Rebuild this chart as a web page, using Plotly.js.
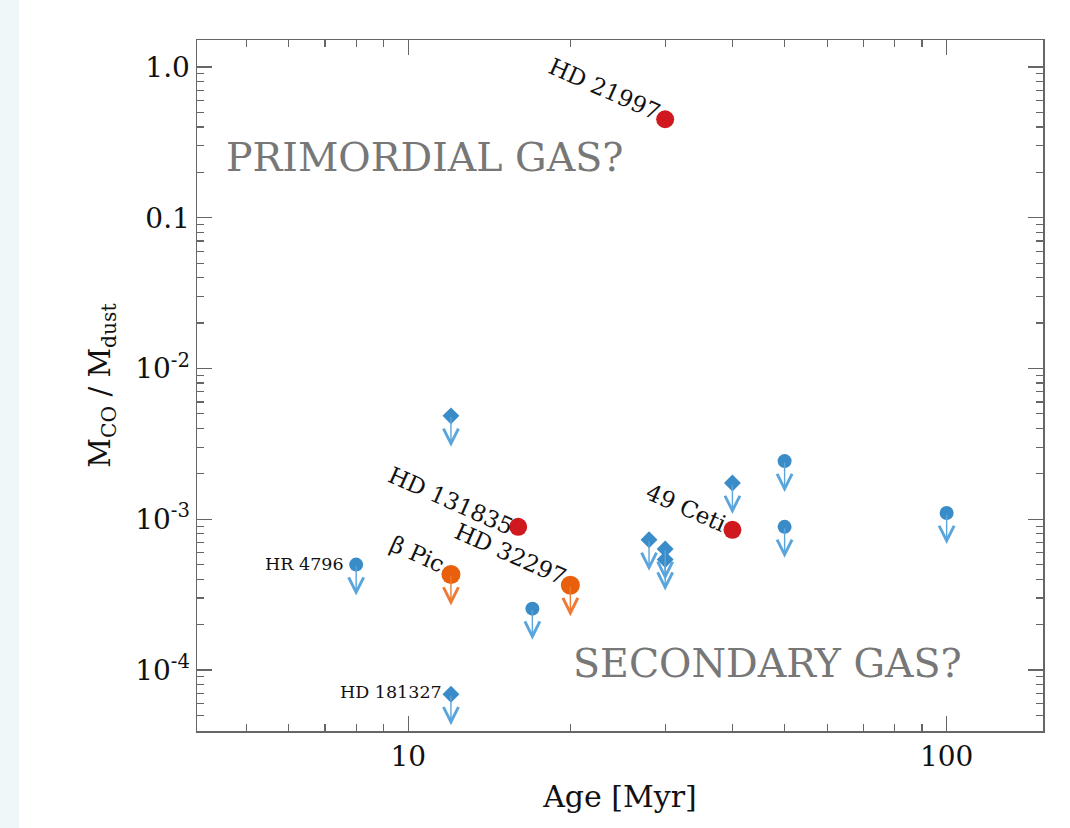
<!DOCTYPE html>
<html>
<head>
<meta charset="utf-8">
<script src="https://cdn.plot.ly/plotly-3.0.1.min.js"></script>
<style>
  html, body { margin: 0; padding: 0; }
  body { width: 1070px; height: 828px; background: linear-gradient(to right, #eff8f8 0px, #eff8f8 19px, #ffffff 19px); }
  #chart { width: 1070px; height: 828px; }
</style>
</head>
<body>
<div id="chart"></div>
<script>
// ---- data ----
const detNames = ['HD 21997', 'HD 131835', '49 Ceti'];
const detAge = [30, 16, 40];
const detRatio = [0.45, 8.9e-4, 8.5e-4];

const orangeNames = ['\u03b2 Pic', 'HD 32297'];
const orangeAge = [12, 20];
const orangeRatio = [4.3e-4, 3.65e-4];

const blueCircNames = ['HR 4796', '', '', '', ''];
const blueCircAge = [8, 17, 50, 50, 100];
const blueCircRatio = [5.0e-4, 2.55e-4, 2.43e-3, 8.9e-4, 1.1e-3];

const blueDiaNames = ['', 'HD 181327', '', '', '', ''];
const blueDiaAge = [12, 12, 28, 30, 30, 40];
const blueDiaRatio = [4.85e-3, 6.9e-5, 7.3e-4, 6.35e-4, 5.4e-4, 1.74e-3];

const xTickVals = [10, 100];
const xTickText = ['10', '100'];
const xMinorVals = [5, 6, 7, 8, 9, 20, 30, 40, 50, 60, 70, 80, 90];
const yTickVals = [1, 0.1, 0.01, 0.001, 0.0001];
const yTickText = ['1.0', '0.1', '10<sup>-2</sup>', '10<sup>-3</sup>', '10<sup>-4</sup>'];
const yMinorVals = [5e-5, 6e-5, 7e-5, 8e-5, 9e-5,
  2e-4, 3e-4, 4e-4, 5e-4, 6e-4, 7e-4, 8e-4, 9e-4,
  2e-3, 3e-3, 4e-3, 5e-3, 6e-3, 7e-3, 8e-3, 9e-3,
  2e-2, 3e-2, 4e-2, 5e-2, 6e-2, 7e-2, 8e-2, 9e-2,
  0.2, 0.3, 0.4, 0.5, 0.6, 0.7, 0.8, 0.9];

// ---- styles ----
const FONT = 'DejaVu Serif, Liberation Serif, serif';
const RED = '#d0191f', ORANGE = '#e8600c', BLUE = '#3a8cc8', BLUE_ARROW = '#5aa5dc', ORANGE_ARROW = '#ee7a35';
const AXC = '#666666';

// rotated label offsets (pixels, relative to marker), keyed by name
const rotLabel = {
  'HD 21997': [-61, 30],
  'HD 131835': [-67, 26],
  '49 Ceti': [-46, 22],
  '\u03b2 Pic': [-34, 20],
  'HD 32297': [-60, 31]
};

const traces = [
  { x: blueCircAge, y: blueCircRatio, type: 'scatter', mode: 'markers',
    marker: { symbol: 'circle', size: 14, color: BLUE }, hoverinfo: 'x+y' },
  { x: blueDiaAge, y: blueDiaRatio, type: 'scatter', mode: 'markers',
    marker: { symbol: 'diamond', size: 13, color: BLUE }, hoverinfo: 'x+y' },
  { x: orangeAge, y: orangeRatio, type: 'scatter', mode: 'markers',
    marker: { symbol: 'circle', size: 19, color: ORANGE }, hoverinfo: 'x+y' },
  { x: detAge, y: detRatio, type: 'scatter', mode: 'markers',
    marker: { symbol: 'circle', size: 18, color: RED }, hoverinfo: 'x+y' }
];

const annotations = [];
function arrow(age, ratio, color) {
  annotations.push({
    x: Math.log10(age), y: Math.log10(ratio), xref: 'x', yref: 'y',
    text: '', showarrow: true, ax: 0, ay: -31, axref: 'pixel', ayref: 'pixel',
    yshift: -31, arrowhead: 5, arrowsize: 2.1, arrowwidth: 1.4, arrowcolor: color,
    standoff: 0, startstandoff: 0
  });
}
blueCircAge.forEach((a, i) => arrow(a, blueCircRatio[i], BLUE_ARROW));
blueDiaAge.forEach((a, i) => arrow(a, blueDiaRatio[i], BLUE_ARROW));
orangeAge.forEach((a, i) => arrow(a, orangeRatio[i], ORANGE_ARROW));

function rotText(name, age, ratio) {
  const off = rotLabel[name];
  annotations.push({
    x: Math.log10(age), y: Math.log10(ratio), xref: 'x', yref: 'y',
    text: name, showarrow: false, textangle: 24,
    xanchor: 'center', yanchor: 'middle', xshift: off[0], yshift: off[1],
    font: { family: FONT, size: 23, color: '#111' }
  });
}
detNames.forEach((n, i) => rotText(n, detAge[i], detRatio[i]));
orangeNames.forEach((n, i) => rotText(n, orangeAge[i], orangeRatio[i]));

function flatText(name, age, ratio, dx, dy) {
  annotations.push({
    x: Math.log10(age), y: Math.log10(ratio), xref: 'x', yref: 'y',
    text: name, showarrow: false, xanchor: 'right', yanchor: 'middle',
    xshift: dx, yshift: dy, font: { family: FONT, size: 17.5, color: '#111' }
  });
}
blueCircNames.forEach((n, i) => { if (n) flatText(n, blueCircAge[i], blueCircRatio[i], -10, 1); });
blueDiaNames.forEach((n, i) => { if (n) flatText(n, blueDiaAge[i], blueDiaRatio[i], -7, 2); });

annotations.push({
  xref: 'paper', yref: 'paper', x: 0.032, y: 0.831, xanchor: 'left', yanchor: 'middle',
  text: 'PRIMORDIAL GAS?', showarrow: false, font: { family: FONT, size: 39.5, color: '#777777' }
});
annotations.push({
  xref: 'paper', yref: 'paper', x: 0.442, y: 0.098, xanchor: 'left', yanchor: 'middle',
  text: 'SECONDARY GAS?', showarrow: false, font: { family: FONT, size: 39.5, color: '#777777' }
});

const layout = {
  width: 1070, height: 828,
  margin: { l: 197, r: 27, t: 40, b: 97 },
  paper_bgcolor: 'rgba(0,0,0,0)', plot_bgcolor: '#ffffff',
  showlegend: false,
  font: { family: FONT, color: '#111' },
  xaxis: {
    type: 'log', range: [Math.log10(4.05), Math.log10(151)],
    tickmode: 'array', tickvals: xTickVals, ticktext: xTickText,
    ticks: 'inside', ticklen: 15, tickwidth: 1.2, tickcolor: AXC,
    minor: { tickmode: 'array', tickvals: xMinorVals, ticks: 'inside', ticklen: 7, tickwidth: 1.2, tickcolor: AXC, showgrid: false },
    showline: true, linecolor: AXC, linewidth: 1.5, mirror: 'ticks',
    showgrid: false, zeroline: false,
    tickfont: { family: FONT, size: 28, color: '#111' },
    title: { text: 'Age [Myr]', font: { family: FONT, size: 30, color: '#111' }, standoff: 14 }
  },
  yaxis: {
    type: 'log', range: [-4.405, 0.179],
    tickmode: 'array', tickvals: yTickVals, ticktext: yTickText,
    ticks: 'inside', ticklen: 15, tickwidth: 1.2, tickcolor: AXC,
    minor: { tickmode: 'array', tickvals: yMinorVals, ticks: 'inside', ticklen: 7, tickwidth: 1.2, tickcolor: AXC, showgrid: false },
    showline: true, linecolor: AXC, linewidth: 1.5, mirror: 'ticks',
    showgrid: false, zeroline: false,
    tickfont: { family: FONT, size: 28, color: '#111' },
    title: { text: 'M<sub>CO</sub> / M<sub>dust</sub>', font: { family: FONT, size: 29, color: '#111' }, standoff: 16 }
  },
  annotations: annotations
};

Plotly.newPlot('chart', traces, layout, { displayModeBar: false, staticPlot: true });
</script>
</body>
</html>
